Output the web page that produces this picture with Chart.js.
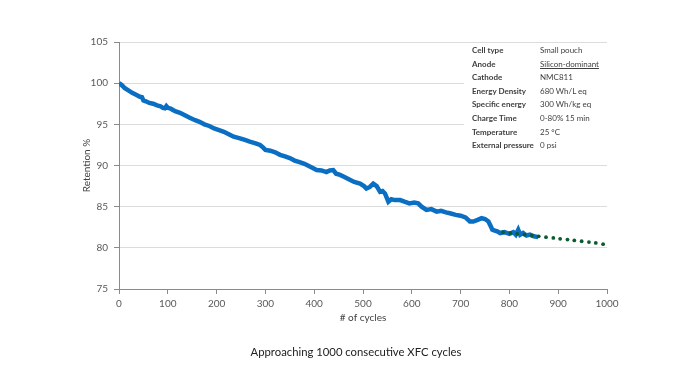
<!DOCTYPE html>
<html>
<head>
<meta charset="utf-8">
<script src="https://cdn.jsdelivr.net/npm/chart.js@4/dist/chart.umd.min.js"></script>
<style>
  html, body { margin:0; padding:0; background:#fff; }
  #wrap { position:relative; width:700px; height:381px; }
  canvas { position:absolute; left:0; top:0; }
  #info { position:absolute; left:464px; top:44px; width:160px; height:108px; background:#fff;
          font-family: Lato, "Noto Sans", sans-serif; font-size:8px; color:#404040; }
  #info .row { position:absolute; left:8px; height:13.6px; line-height:13.6px; white-space:nowrap; }
  #info .k { display:inline-block; width:68px; font-weight:bold; }
  #info .u { text-decoration: underline; }
  #caption { position:absolute; left:0; width:712px; top:345px; text-align:center;
             font-family: Lato, "Noto Sans", sans-serif; font-size:11.3px; color:#222; }
</style>
</head>
<body>
<div id="wrap">
  <canvas id="c" width="700" height="381"></canvas>
  <div id="info"></div>
  <div id="caption">Approaching 1000 consecutive XFC cycles</div>
</div>
<script>
// ---- data ----
const measuredCycles = [0, 5, 12, 20, 28, 35, 43, 47, 50, 55, 62, 70, 78, 85, 90, 94, 97, 100, 106, 115, 125, 135, 145, 156, 165, 175, 185, 195, 205, 215, 225, 235, 248, 258, 268, 280, 289, 295, 300, 310, 320, 330, 340, 350, 360, 370, 380, 390, 400, 405, 415, 425, 432, 439, 445, 453, 462, 472, 482, 494, 502, 507, 514, 521, 528, 535, 540, 545, 552, 558, 565, 576, 585, 595, 605, 613, 620, 630, 640, 651, 660, 670, 678, 690, 700, 710, 719, 726, 735, 743, 750, 757, 762, 765, 770, 775, 781, 790, 800, 808, 813, 818, 822, 828, 835, 842, 850, 859];
const measuredRetention = [100.0, 99.8, 99.4, 99.1, 98.8, 98.6, 98.35, 98.3, 97.9, 97.8, 97.6, 97.5, 97.3, 97.2, 97.0, 96.95, 97.2, 97.0, 96.9, 96.6, 96.4, 96.1, 95.8, 95.5, 95.3, 95.0, 94.8, 94.5, 94.3, 94.1, 93.8, 93.5, 93.3, 93.1, 92.9, 92.7, 92.5, 92.2, 91.9, 91.8, 91.6, 91.3, 91.1, 90.9, 90.6, 90.4, 90.2, 89.9, 89.6, 89.45, 89.4, 89.2, 89.4, 89.45, 89.0, 88.85, 88.6, 88.3, 88.0, 87.8, 87.5, 87.2, 87.4, 87.8, 87.5, 86.8, 86.9, 86.6, 85.6, 85.9, 85.8, 85.8, 85.6, 85.4, 85.5, 85.4, 85.0, 84.6, 84.7, 84.4, 84.5, 84.3, 84.2, 84.0, 83.9, 83.7, 83.2, 83.2, 83.4, 83.6, 83.5, 83.2, 82.6, 82.2, 82.1, 82.0, 81.8, 81.9, 81.7, 81.9, 81.6, 82.2, 81.6, 81.8, 81.5, 81.6, 81.4, 81.3];
const projectedCycles = [787, 802, 816, 831, 846, 860, 875, 890, 904, 919, 933, 948, 963, 977, 992];
const projectedRetention = [81.9, 81.8, 81.7, 81.6, 81.5, 81.4, 81.3, 81.2, 81.1, 81.0, 80.9, 80.8, 80.7, 80.6, 80.45];
const xTicks = [0, 100, 200, 300, 400, 500, 600, 700, 800, 900, 1000];
const yTicks = [75, 80, 85, 90, 95, 100, 105];
const infoLabels = ["Cell type", "Anode", "Cathode", "Energy Density", "Specific energy", "Charge Time", "Temperature", "External pressure"];
const infoValues = ["Small pouch", "Silicon-dominant", "NMC811", "680 Wh/L eq", "300 Wh/kg eq", "0-80% 15 min", "25 °C", "0 psi"];

// ---- info table ----
const info = document.getElementById('info');
infoLabels.forEach((lab, i) => {
  const r = document.createElement('div');
  r.className = 'row';
  r.style.top = (i * 13.6) + 'px';
  const k = document.createElement('span'); k.className = 'k'; k.textContent = lab;
  const v = document.createElement('span'); v.textContent = infoValues[i];
  if (lab === 'Anode') v.className = 'u';
  r.appendChild(k); r.appendChild(v);
  info.appendChild(r);
});

const toXY = (xs, ys) => xs.map((x, i) => ({x, y: ys[i]}));
const tickFont = { family: 'Lato, "Noto Sans", sans-serif', size: 10 };

new Chart(document.getElementById('c'), {
  type: 'scatter',
  data: {
    datasets: [
      {
        label: 'Projection',
        data: toXY(projectedCycles, projectedRetention),
        showLine: false,
        pointRadius: 1.9,
        pointBackgroundColor: '#0A5C2E',
        pointBorderWidth: 0
      },
      {
        label: 'Retention',
        data: toXY(measuredCycles, measuredRetention),
        showLine: true,
        borderColor: '#0A6FC2',
        borderWidth: 4.5,
        pointRadius: 0,
        tension: 0
      }
    ]
  },
  options: {
    responsive: false,
    animation: false,
    layout: { padding: { left: 0, top: 42, right: 93, bottom: 0 } },
    plugins: { legend: { display: false }, tooltip: { enabled: false } },
    scales: {
      x: {
        type: 'linear', min: 0, max: 1000,
        afterBuildTicks: s => { s.ticks = xTicks.map(v => ({value: v})); },
        afterFit: s => { s.height = 92; },
        grid: { display: true, drawOnChartArea: false, tickLength: 5, tickColor: '#8a8a8a' },
        border: { color: '#8a8a8a', width: 1 },
        ticks: { color: '#595959', font: tickFont, padding: 4, maxRotation: 0, callback: v => String(v) },
        title: { display: true, text: '# of cycles', color: '#404040', font: tickFont, padding: { top: 0, bottom: 57 } }
      },
      y: {
        type: 'linear', min: 75, max: 105,
        afterBuildTicks: s => { s.ticks = yTicks.map(v => ({value: v})); },
        afterFit: s => { s.width = 119; },
        grid: { color: '#dcdcdc', tickLength: 5, tickColor: '#8a8a8a' },
        border: { color: '#8a8a8a', width: 1 },
        ticks: { color: '#595959', font: tickFont, padding: 6, callback: v => String(v) },
        title: { display: true, text: 'Retention %', color: '#404040', font: tickFont, padding: { top: 81, bottom: 0 } }
      }
    }
  }
});
</script>
</body>
</html>
